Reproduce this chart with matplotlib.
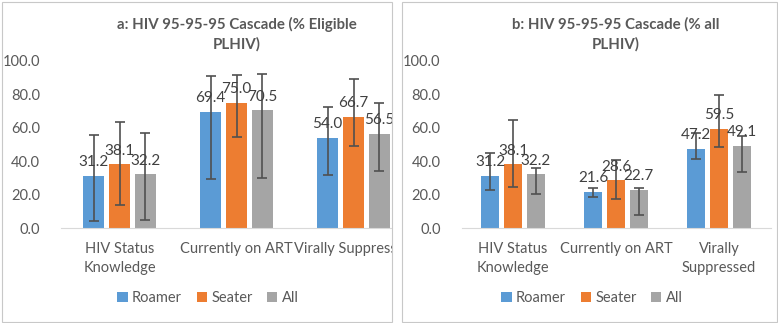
import numpy as np
import matplotlib
matplotlib.use("Agg")
from matplotlib import pyplot as plt
from matplotlib.patches import Rectangle

plt.rcParams['font.family'] = ['Lato', 'DejaVu Sans']

series = ["Roamer", "Seater", "All"]
colors = ["#5B9BD5", "#ED7D31", "#A5A5A5"]

cats_a = ["HIV Status\nKnowledge", "Currently on ART", "Virally Suppressed"]
cats_b = ["HIV Status\nKnowledge", "Currently on ART", "Virally\nSuppressed"]

# panel a: % eligible PLHIV
roamer_a = [31.2, 69.4, 54.0]
roamer_a_lo = [3.9, 29.1, 31.7]
roamer_a_hi = [55.5, 91.2, 72.3]
seater_a = [38.1, 75.0, 66.7]
seater_a_lo = [14.0, 54.3, 48.9]
seater_a_hi = [63.7, 91.6, 89.2]
all_a = [32.2, 70.5, 56.5]
all_a_lo = [5.0, 30.1, 34.3]
all_a_hi = [56.9, 92.2, 74.9]

# panel b: % all PLHIV
roamer_b = [31.2, 21.6, 47.2]
roamer_b_lo = [22.9, 18.8, 41.3]
roamer_b_hi = [44.9, 24.0, 56.7]
seater_b = [38.1, 28.6, 59.5]
seater_b_lo = [24.7, 17.2, 48.3]
seater_b_hi = [64.5, 41.0, 79.6]
all_b = [32.2, 22.7, 49.1]
all_b_lo = [20.4, 7.8, 33.3]
all_b_hi = [36.1, 24.0, 55.1]

txt = "#595959"
W, H = 778, 323
fig = plt.figure(figsize=(W / 100, H / 100), dpi=100)


def panel(ax, cats, vals, los, his, title):
    x = np.arange(len(cats))
    w = 0.175
    off = 0.222
    for i, (v, lo, hi) in enumerate(zip(vals, los, his)):
        v = np.array(v)
        err = [v - np.array(lo), np.array(hi) - v]
        xs = x + (i - 1) * off
        ax.bar(xs, v, w, color=colors[i], label=series[i], zorder=2)
        ax.errorbar(xs, v, yerr=err, fmt="none", ecolor="#505050",
                    elinewidth=1.2, capsize=3.5, capthick=1.2, zorder=3)
        for xx, vv in zip(xs, v):
            ax.annotate(f"{vv:.1f}", (xx, vv), xytext=(0, 7),
                        textcoords="offset points", ha="center",
                        va="baseline", fontsize=11, color="#404040", zorder=4)
    ax.set_xlim(-0.5, len(cats) - 0.5)
    ax.set_ylim(0, 100)
    ax.set_yticks(np.arange(0, 101, 20))
    ax.set_yticklabels([f"{t:.1f}" for t in np.arange(0, 101, 20)])
    ax.set_xticks(x)
    ax.set_xticklabels(cats, linespacing=1.45)
    ax.tick_params(axis="y", length=0, pad=15, labelsize=10.5, labelcolor=txt)
    ax.tick_params(axis="x", length=0, pad=10, labelsize=10.5, labelcolor=txt)
    for s in ["top", "right", "left"]:
        ax.spines[s].set_visible(False)
    ax.spines["bottom"].set_color("#D9D9D9")
    ax.set_title(title, fontsize=10.8, fontweight="bold", color=txt,
                 pad=9, linespacing=1.45)
    ax.patch.set_alpha(0)


ax1 = fig.add_axes([61 / W, 95 / H, 351 / W, 167 / H])
panel(ax1, cats_a, [roamer_a, seater_a, all_a],
      [roamer_a_lo, seater_a_lo, all_a_lo],
      [roamer_a_hi, seater_a_hi, all_a_hi],
      "a: HIV 95-95-95 Cascade (% Eligible\nPLHIV)")
ax1.legend(loc="center", bbox_to_anchor=(208 / W, 25 / H),
           bbox_transform=fig.transFigure, ncol=3, frameon=False,
           handlelength=0.7, handleheight=0.7, handletextpad=0.3,
           columnspacing=1.0, fontsize=10.5, labelcolor=txt)

# cover the part of panel a that runs under panel b
fig.patches.append(Rectangle((392.5 / W, 0), 1 - 392.5 / W, 1,
                             transform=fig.transFigure, facecolor="white",
                             edgecolor="none", zorder=1))
fig.patches.append(Rectangle((2 / W, 1.5 / H), 390 / W, 320 / H,
                             transform=fig.transFigure, facecolor="none",
                             edgecolor="#C8C8C8", lw=0.8, zorder=1.5))
fig.patches.append(Rectangle((402 / W, 1.5 / H), 374.5 / W, 320 / H,
                             transform=fig.transFigure, facecolor="none",
                             edgecolor="#C8C8C8", lw=0.8, zorder=1.5))

ax2 = fig.add_axes([461.5 / W, 95 / H, 309 / W, 167 / H])
ax2.set_zorder(2)
panel(ax2, cats_b, [roamer_b, seater_b, all_b],
      [roamer_b_lo, seater_b_lo, all_b_lo],
      [roamer_b_hi, seater_b_hi, all_b_hi],
      "b: HIV 95-95-95 Cascade (% all\nPLHIV)")
ax2.legend(loc="center", bbox_to_anchor=(592 / W, 25 / H),
           bbox_transform=fig.transFigure, ncol=3, frameon=False,
           handlelength=0.7, handleheight=0.7, handletextpad=0.3,
           columnspacing=1.0, fontsize=10.5, labelcolor=txt)

fig.savefig("out.png", dpi=100)
